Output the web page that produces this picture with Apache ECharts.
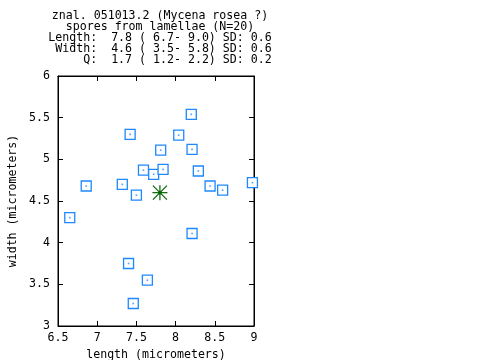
<!DOCTYPE html>
<html><head><meta charset="utf-8">
<script src="https://cdn.jsdelivr.net/npm/echarts@6/dist/echarts.min.js"></script>
<style>html,body{margin:0;padding:0;background:#fff}#c{width:480px;height:360px}</style>
</head><body><div id="c"></div>
<script>
var titleLines = [
  "znal. 051013.2 (Mycena rosea ?)",
  "spores from lamellae (N=20)",
  "Length:  7.8 ( 6.7- 9.0) SD: 0.6",
  " Width:  4.6 ( 3.5- 5.8) SD: 0.6",
  "     Q:  1.7 ( 1.2- 2.2) SD: 0.2"
];
var xName = "length (micrometers)";
var yName = "width (micrometers)";
var lengths = [8.20, 7.42, 8.04, 7.81, 8.21, 7.59, 7.72, 7.84, 8.29, 6.86, 7.32, 7.50, 8.44, 8.60, 8.98, 6.65, 8.21, 7.40, 7.64, 7.46];
var widths  = [5.54, 5.30, 5.29, 5.11, 5.12, 4.87, 4.82, 4.88, 4.86, 4.68, 4.70, 4.57, 4.68, 4.63, 4.72, 4.30, 4.11, 3.75, 3.55, 3.27];
var meanPoint = [7.8, 4.6];
var xMin = 6.5, xMax = 9, xStep = 0.5;
var yMin = 3, yMax = 6, yStep = 0.5;

var FONT = "'DejaVu Sans Mono', monospace";
var BLUE = '#1e88ff';
var GREEN = '#006400';
var pts = lengths.map(function (l, i) { return [l, widths[i]]; });

var chart = echarts.init(document.getElementById('c'), null, {renderer: 'canvas'});
function fmt(v) { return Number.isInteger(v) ? String(v) : v.toFixed(1); }
var tickCommon = {show: true, inside: true, length: 5, lineStyle: {color: '#000', width: 1}};
chart.setOption({
  animation: false,
  backgroundColor: '#fff',
  title: {
    text: titleLines.join('\n'),
    left: 155, top: 5, textAlign: 'center',
    textStyle: {fontFamily: FONT, fontSize: 11.6, fontWeight: 'normal', color: '#000', lineHeight: 11}
  },
  grid: {left: 58, right: 226, top: 76, bottom: 34, outerBoundsMode: 'none', containLabel: false,
         show: true, borderColor: '#000', borderWidth: 1, backgroundColor: 'transparent'},
  xAxis: [{
    type: 'value', min: xMin, max: xMax, interval: xStep, position: 'bottom',
    name: xName, nameLocation: 'middle', nameGap: 20,
    nameTextStyle: {fontFamily: FONT, fontSize: 11.6, color: '#000'},
    axisLine: {show: true, onZero: false, lineStyle: {color: '#000', width: 1}},
    axisTick: tickCommon, splitLine: {show: false},
    axisLabel: {fontFamily: FONT, fontSize: 11.6, color: '#000', margin: 6, formatter: fmt}
  }, {
    type: 'value', min: xMin, max: xMax, interval: xStep, position: 'top',
    axisLine: {show: true, onZero: false, lineStyle: {color: '#000', width: 1}},
    axisTick: tickCommon, splitLine: {show: false}, axisLabel: {show: false}
  }],
  yAxis: [{
    type: 'value', min: yMin, max: yMax, interval: yStep, position: 'left',
    name: yName, nameLocation: 'middle', nameGap: 39,
    nameTextStyle: {fontFamily: FONT, fontSize: 11.6, color: '#000'},
    axisLine: {show: true, onZero: false, lineStyle: {color: '#000', width: 1}},
    axisTick: tickCommon, splitLine: {show: false},
    axisLabel: {fontFamily: FONT, fontSize: 11.6, color: '#000', margin: 8, formatter: fmt}
  }, {
    type: 'value', min: yMin, max: yMax, interval: yStep, position: 'right',
    axisLine: {show: true, onZero: false, lineStyle: {color: '#000', width: 1}},
    axisTick: tickCommon, splitLine: {show: false}, axisLabel: {show: false}
  }],
  series: [{
    type: 'scatter', data: pts, symbol: 'rect', symbolSize: 10,
    itemStyle: {color: '#fff', borderColor: BLUE, borderWidth: 1.3, opacity: 1},
    silent: true
  }, {
    type: 'scatter', data: pts, symbol: 'rect', symbolSize: 1.6,
    itemStyle: {color: BLUE}, silent: true
  }, {
    type: 'custom', data: [meanPoint], silent: true,
    renderItem: function (params, api) {
      var c = api.coord([api.value(0), api.value(1)]);
      var r = 7.5, d = 7;
      var st = {stroke: GREEN, lineWidth: 1.2};
      function ln(x1, y1, x2, y2) { return {type: 'line', shape: {x1: c[0] + x1, y1: c[1] + y1, x2: c[0] + x2, y2: c[1] + y2}, style: st}; }
      return {type: 'group', children: [
        ln(-r, 0, r, 0), ln(0, -r, 0, r), ln(-d, -d, d, d), ln(-d, d, d, -d),
        {type: 'circle', shape: {cx: c[0], cy: c[1], r: 1.8}, style: {fill: GREEN}}
      ]};
    }
  }]
});
</script></body></html>
